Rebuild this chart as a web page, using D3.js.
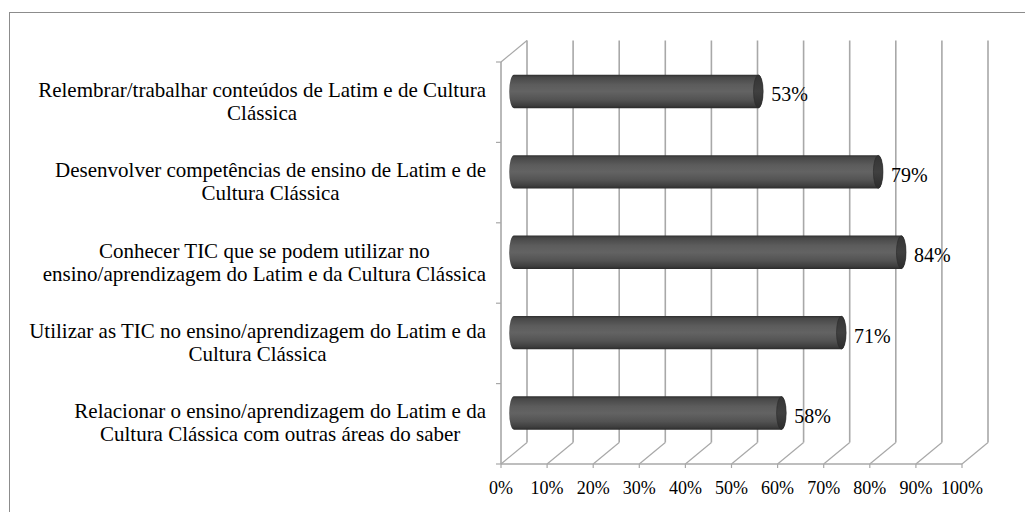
<!DOCTYPE html>
<html>
<head>
<meta charset="utf-8">
<script src="https://cdn.jsdelivr.net/npm/d3@7"></script>
<style>
	body { margin: 0; background: #fff; }
	text { font-family: "Liberation Serif", "Times New Roman", serif; fill: #000; }
</style>
</head>
<body>
<div class="chart"></div>
<script>
// Categories, top to bottom (line breaks as in the picture)
var categories = [
	"Relembrar/trabalhar conteúdos de Latim e de Cultura\nClássica",
	"Desenvolver competências de ensino de Latim e de\nCultura Clássica",
	"Conhecer TIC que se podem utilizar no\nensino/aprendizagem do Latim e da Cultura Clássica",
	"Utilizar as TIC no ensino/aprendizagem do Latim e da\nCultura Clássica",
	"Relacionar o ensino/aprendizagem do Latim e da\nCultura Clássica com outras áreas do saber"
];

// Share of answers per category
var values = [0.53, 0.79, 0.84, 0.71, 0.58];

// Axis ticks
var xTicks = [0, 0.1, 0.2, 0.3, 0.4, 0.5, 0.6, 0.7, 0.8, 0.9, 1];

(function (){

	var width = 1025, height = 512;

	// 3D depth offset of the plot box
	var depth = { x: 26, y: -21.5 };

	var plot = { left: 501, right: 962, top: 62, bottom: 464 };

	// Horizontal scale (front plane)
	var xScale = d3.scaleLinear()
		.domain([0, 1])
		.range([plot.left, plot.right]);

	// Vertical scale (front plane)
	var yScale = d3.scaleBand()
		.domain(categories)
		.range([plot.top, plot.bottom]);

	var barR = 16.7, capRx = 4.8;

	var fmt = d3.format(".0%");

	var svg = d3.select(".chart")
		.append("svg")
		.attr("width", width)
		.attr("height", height);

	// Bar gradient
	var defs = svg.append("defs");
	var grad = defs.append("linearGradient")
		.attr("id", "cyl")
		.attr("x1", 0).attr("y1", 0).attr("x2", 0).attr("y2", 1);
	[[0, "#2e2e2e"], [0.07, "#474747"], [0.3, "#5c5c5c"], [0.5, "#636363"], [0.75, "#535353"], [0.92, "#3e3e3e"], [1, "#2a2a2a"]]
		.forEach(function(s){ grad.append("stop").attr("offset", s[0]).attr("stop-color", s[1]); });

	var capGrad = defs.append("linearGradient")
		.attr("id", "cap")
		.attr("x1", 0).attr("y1", 0).attr("x2", 0).attr("y2", 1);
	[[0, "#343434"], [0.5, "#404040"], [1, "#2c2c2c"]]
		.forEach(function(s){ capGrad.append("stop").attr("offset", s[0]).attr("stop-color", s[1]); });

	// Outer frame
	svg.append("rect")
		.attr("x", 9.5)
		.attr("y", 12.5)
		.attr("width", width + 20)
		.attr("height", height + 20)
		.attr("fill", "none")
		.attr("stroke", "#8c8c8c")
		.attr("stroke-width", 1);

	var gridColor = "#a8a8a8";
	var grid = svg.append("g")
		.attr("stroke", gridColor)
		.attr("stroke-width", 1.6)
		.attr("fill", "none");

	// Back wall gridlines
	grid.selectAll(".back")
		.data(xTicks)
		.enter()
		.append("line")
		.attr("x1", function(d){ return xScale(d) + depth.x; })
		.attr("x2", function(d){ return xScale(d) + depth.x; })
		.attr("y1", plot.top + depth.y)
		.attr("y2", plot.bottom + depth.y);

	// Floor diagonals
	grid.selectAll(".floor")
		.data(xTicks)
		.enter()
		.append("line")
		.attr("stroke-width", 1.2)
		.attr("x1", function(d){ return xScale(d); })
		.attr("x2", function(d){ return xScale(d) + depth.x; })
		.attr("y1", plot.bottom)
		.attr("y2", plot.bottom + depth.y);

	// Left wall
	grid.append("line")
		.attr("x1", plot.left).attr("x2", plot.left)
		.attr("y1", plot.top).attr("y2", plot.bottom);
	grid.append("line")
		.attr("stroke-width", 1.2)
		.attr("x1", plot.left).attr("x2", plot.left + depth.x)
		.attr("y1", plot.top).attr("y2", plot.top + depth.y);

	// Front floor line
	grid.append("line")
		.attr("x1", plot.left).attr("x2", plot.right)
		.attr("y1", plot.bottom).attr("y2", plot.bottom);

	// Tick marks
	grid.selectAll(".xtick")
		.data(xTicks)
		.enter()
		.append("line")
		.attr("stroke-width", 1.2)
		.attr("x1", function(d){ return xScale(d); })
		.attr("x2", function(d){ return xScale(d); })
		.attr("y1", plot.bottom)
		.attr("y2", plot.bottom + 4);

	var bounds = categories.map(function(c){ return yScale(c); }).concat([plot.bottom]);
	grid.selectAll(".ytick")
		.data(bounds)
		.enter()
		.append("line")
		.attr("stroke-width", 1.2)
		.attr("x1", plot.left - 5)
		.attr("x2", plot.left)
		.attr("y1", function(d){ return d; })
		.attr("y2", function(d){ return d; });

	// Bars (cylinders at mid depth)
	var x0 = xScale(0) + depth.x / 2;
	function barX(v) { return x0 + (xScale(v) - xScale(0)); }
	function barY(c) { return yScale(c) + yScale.bandwidth() / 2 + depth.y / 2; }

	var bars = svg.append("g")
		.selectAll("g")
		.data(categories)
		.enter()
		.append("g");

	bars.append("path")
		.attr("fill", "url(#cyl)")
		.attr("d", function(c, i){
			var xa = x0, xb = barX(values[i]), cy = barY(c);
			return "M" + xa + "," + (cy - barR)
				+ "L" + xb + "," + (cy - barR)
				+ "A" + capRx + "," + barR + " 0 0 1 " + xb + "," + (cy + barR)
				+ "L" + xa + "," + (cy + barR)
				+ "A" + capRx + "," + barR + " 0 0 1 " + xa + "," + (cy - barR) + "Z";
		});

	bars.append("ellipse")
		.attr("fill", "url(#cap)")
		.attr("stroke", "#2a2a2a")
		.attr("stroke-width", 0.6)
		.attr("cx", function(c, i){ return barX(values[i]); })
		.attr("cy", function(c){ return barY(c); })
		.attr("rx", capRx)
		.attr("ry", barR - 0.3);

	// Value labels
	bars.append("text")
		.attr("x", function(c, i){ return barX(values[i]) + capRx + 8; })
		.attr("y", function(c){ return barY(c) + 10; })
		.style("font-size", "20px")
		.text(function(c, i){ return fmt(values[i]); });

	// X tick labels
	svg.append("g")
		.selectAll("text")
		.data(xTicks)
		.enter()
		.append("text")
		.attr("x", function(d){ return xScale(d); })
		.attr("y", 494)
		.attr("text-anchor", "middle")
		.style("font-size", "18px")
		.text(function(d){ return fmt(d); });

	// Category labels: centered block, right-aligned next to the axis
	var labelRight = 486, lineH = 23;
	svg.append("g")
		.selectAll("text")
		.data(categories)
		.enter()
		.append("text")
		.attr("text-anchor", "middle")
		.style("font-size", "21px")
		.each(function(c){
			var t = d3.select(this);
			var lines = c.split("\n");
			var cy = yScale(c) + yScale.bandwidth() / 2;
			lines.forEach(function(l, k){
				t.append("tspan")
					.attr("y", cy + 6 + (k - (lines.length - 1) / 2) * lineH)
					.text(l);
			});
			var w = d3.max(t.selectAll("tspan").nodes(), function(n){ return n.getComputedTextLength(); });
			t.selectAll("tspan").attr("x", labelRight - w / 2);
		});
})();
</script>
</body>
</html>
